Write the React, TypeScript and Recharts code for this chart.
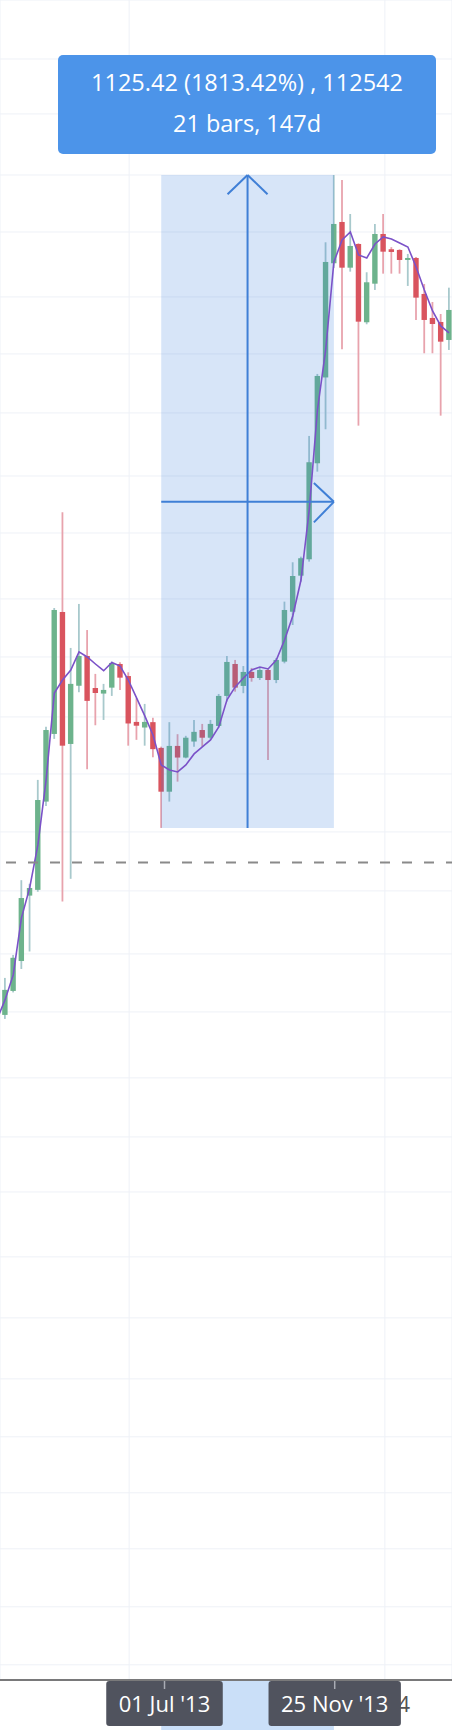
import { useLayoutEffect, useRef, useState } from "react";
import { Bar, CartesianGrid, ComposedChart, Line, ReferenceArea, ReferenceLine, XAxis, YAxis } from "recharts";

// weekly bars, first one only feeds the moving average line at the left edge
const weeks = [
  "2013-02-11", "2013-02-18", "2013-02-25", "2013-03-04", "2013-03-11", "2013-03-18", "2013-03-25", "2013-04-01",
  "2013-04-08", "2013-04-15", "2013-04-22", "2013-04-29", "2013-05-06", "2013-05-13", "2013-05-20", "2013-05-27",
  "2013-06-03", "2013-06-10", "2013-06-17", "2013-06-24", "2013-07-01", "2013-07-08", "2013-07-15", "2013-07-22",
  "2013-07-29", "2013-08-05", "2013-08-12", "2013-08-19", "2013-08-26", "2013-09-02", "2013-09-09", "2013-09-16",
  "2013-09-23", "2013-09-30", "2013-10-07", "2013-10-14", "2013-10-21", "2013-10-28", "2013-11-04", "2013-11-11",
  "2013-11-18", "2013-11-25", "2013-12-02", "2013-12-09", "2013-12-16", "2013-12-23", "2013-12-30", "2014-01-06",
  "2014-01-13", "2014-01-20", "2014-01-27", "2014-02-03", "2014-02-10", "2014-02-17", "2014-02-24", "2014-03-03"
];

const opens = [
  null, 26.65, 29.7, 34.0, 45.7, 46.9, 69.9, 94.9, 164.7, 90.7, 118.0, 135.0, 116.8, 113.9, 117.0, 130.2,
  123.3, 100.2, 97.7, 100.1, 89.1, 73.1, 89.9, 85.3, 91.7, 96.6, 93.3, 98.4, 112.7, 130.2, 117.9, 125.6,
  122.2, 126.7, 121.1, 131.6, 164.9, 194.1, 209.0, 322.6, 475.5, 796.8, 960.2, 781.0, 869.3, 610.2, 726.5, 909.5,
  848.8, 846.1, 808.7, 816.0, 693.5, 622.2, 611.0, 563.3
];
const highs = [
  null, 31.5, 34.95, 49.0, 48.2, 77.1, 98.0, 167.7, 258.5, 140.0, 170.8, 151.8, 124.5, 119.0, 131.6, 131.2,
  125.4, 111.5, 108.7, 102.1, 89.6, 100.1, 94.8, 94.1, 101.1, 99.3, 101.1, 113.7, 135.0, 132.6, 129.0, 127.9,
  127.9, 127.9, 133.8, 172.6, 206.2, 211.5, 365.0, 483.1, 876.0, 1187.48, 1161.0, 995.6, 872.0, 765.0, 951.6, 995.6,
  856.9, 848.8, 831.0, 820.0, 725.6, 668.8, 633.5, 713.5
];
const lows = [
  null, 26.17, 29.5, 32.8, 35.5, 46.5, 68.5, 92.8, 44.5, 49.3, 114.6, 80.9, 98.7, 101.1, 112.7, 115.8,
  90.0, 92.4, 90.0, 85.4, 62.06, 69.9, 76.5, 85.0, 89.6, 89.6, 92.7, 97.7, 109.9, 114.9, 114.1, 120.2,
  121.1, 84.4, 119.4, 130.6, 155.3, 188.9, 206.8, 310.6, 376.2, 780.0, 540.1, 767.1, 382.4, 604.7, 706.2, 760.2,
  760.2, 760.2, 719.1, 616.6, 530.4, 530.4, 400.1, 538.4
];
const closes = [
  null, 29.84, 34.5, 45.2, 47.3, 70.4, 96.6, 166.2, 90.0, 119.0, 135.0, 110.2, 114.2, 115.8, 130.8, 122.4,
  99.5, 98.5, 100.2, 88.6, 73.1, 89.9, 85.3, 93.3, 95.8, 93.3, 99.3, 112.7, 131.4, 117.0, 125.6, 122.2,
  126.7, 121.1, 132.6, 166.2, 193.8, 210.0, 324.1, 478.7, 801.4, 951.6, 781.0, 861.5, 611.9, 731.1, 909.5, 839.6,
  838.5, 808.7, 816.0, 682.1, 616.6, 605.5, 559.0, 645.1
];
const movingAvg = [
  26.05, 28.52, 31.93, 41.32, 47.32, 57.46, 77.09, 114.2, 121.1, 126.7, 137.5, 134.4, 130.2, 126.3, 131.1, 129.0,
  121.1, 111.7, 103.0, 94.48, 82.5, 80.66, 79.93, 82.5, 86.71, 89.49, 92.37, 97.96, 110.7, 117.4, 122.2, 126.7,
  128.4, 127.3, 132.6, 145.1, 161.8, 190.3, 261.2, 410.5, 538.4, 801.4, 885.2, 917.8, 827.2, 816.0, 869.3, 897.3,
  889.2, 873.3, 857.6, 783.5, 706.2, 642.2, 600.1, 581.4
];

// log price grid
const gridPrices = [
  2006, 1565, 1187.5, 917.8, 684.2, 528.8, 405.0, 304.6, 235.4, 174.7, 134.4, 102.5, 79.2, 60.94, 46.68, 35.11,
  27.01, 20.05, 15.35, 11.97, 8.926, 6.775, 5.142, 3.957, 3.072, 2.385, 1.835, 1.412
];
const gridWeeks = [15.1, 46.2]; // Jun '13, 2014

const measureFrom = 19;
const measureTo = 40;
const measureLow = 62.06;
const measureHigh = 1187.48;
const measureMid = 271;
const lastPrice = 53.05;
const measureText = "1125.42 (1813.42%) , 112542";
const measureBars = "21 bars, 147d";

const axisLabels: Record<number, string> = { 19: "01 Jul '13", 40: "25 Nov '13", 46: "2014" };
const axisTicks = [46.2, 19.4, 40.1];

const WIDTH = 452;
const HEIGHT = 1730;
const AXIS_H = 50;
const X_MIN = -0.608;
const X_MAX = 54.365;
const Y_MIN = 1.3182;
const Y_MAX = 2619.1;
const PX_PER_BAR = WIDTH / (X_MAX - X_MIN);

const UP = "#6db38c";
const DOWN = "#d9545e";
const UP_WICK = "#a8c9cc";
const DOWN_WICK = "#e8a3ad";
const MEASURE = "#3f7fd6";
const FONT = "'Open Sans', sans-serif";

const data = weeks.map((week, i) => ({
  week,
  k: i - 1,
  open: opens[i],
  high: highs[i],
  low: lows[i],
  close: closes[i],
  ma: movingAvg[i],
  range: lows[i] == null ? null : [lows[i], highs[i]]
}));

function Candle(props: any) {
  const { x, y, width, height, payload } = props;
  if (!payload || payload.open == null || !isFinite(y) || !isFinite(height)) return null;
  const top = Math.min(y, y + height);
  const bottom = Math.max(y, y + height);
  const lh = Math.log(payload.high);
  const ll = Math.log(payload.low);
  const toPx = (v: number) => top + ((bottom - top) * (lh - Math.log(v))) / (lh - ll || 1);
  const up = payload.close >= payload.open;
  const cx = x + width / 2;
  const bodyTop = toPx(Math.max(payload.open, payload.close));
  const bodyBottom = toPx(Math.min(payload.open, payload.close));
  return (
    <g>
      <line x1={cx} x2={cx} y1={top} y2={bottom} stroke={up ? UP_WICK : DOWN_WICK} strokeWidth={1.8} />
      <rect x={cx - 2.7} y={bodyTop} width={5.4} height={Math.max(bodyBottom - bodyTop, 1.5)} fill={up ? UP : DOWN} />
    </g>
  );
}

function Badge({ x, y, text }: { x: number; y: number; text: string }) {
  const ref = useRef<SVGTextElement>(null);
  const [w, setW] = useState(95);
  useLayoutEffect(() => {
    if (ref.current) {
      const bw = ref.current.getBBox().width;
      if (Math.abs(bw - w) > 0.5) setW(bw);
    }
  });
  return (
    <g>
      <rect x={x - w / 2 - 12.5} y={y + 1} width={w + 25} height={45} rx={3} fill="#50535e" />
      <line x1={x} x2={x} y1={y + 1} y2={y + 9} stroke="#a9acb4" strokeWidth={1.5} />
      <text ref={ref} x={x} y={y + 32} textAnchor="middle" fill="#ffffff" fontSize={22} fontFamily={FONT}>
        {text}
      </text>
    </g>
  );
}

function AxisTick(props: any) {
  const { x, y, payload } = props;
  const key = Math.round(payload.value);
  const text = axisLabels[key];
  if (key === 46) {
    return (
      <text x={x} y={y + 32} textAnchor="middle" fill="#555555" fontSize={22} fontFamily={FONT}>
        {text}
      </text>
    );
  }
  if (key === measureFrom) {
    const bandX = x + (measureFrom - payload.value) * PX_PER_BAR;
    return (
      <g>
        <rect x={bandX} y={y + 1} width={(measureTo - measureFrom) * PX_PER_BAR} height={AXIS_H} fill="#cadff8" />
        <Badge x={x} y={y} text={text} />
      </g>
    );
  }
  return <Badge x={x} y={y} text={text} />;
}

export default function App() {
  return (
    <div style={{ position: "absolute", left: 0, top: 0, width: WIDTH, height: HEIGHT, background: "#ffffff" }}>
      <ComposedChart width={WIDTH} height={HEIGHT} data={data} margin={{ top: 0, right: 0, left: 0, bottom: 0 }}>
        <CartesianGrid xAxisId="grid" stroke="#eef1f7" strokeWidth={1} />
        <XAxis xAxisId="grid" dataKey="k" type="number" domain={[X_MIN, X_MAX]} allowDataOverflow ticks={gridWeeks} hide />
        <XAxis
          dataKey="k"
          type="number"
          domain={[X_MIN, X_MAX]}
          allowDataOverflow
          ticks={axisTicks}
          interval={0}
          height={AXIS_H}
          tickSize={0}
          tickMargin={0}
          tickLine={false}
          axisLine={{ stroke: "#4f4f4f", strokeWidth: 1.5 }}
          tick={(p: any) => <AxisTick {...p} />}
        />
        <YAxis hide type="number" scale="log" domain={[Y_MIN, Y_MAX]} allowDataOverflow ticks={gridPrices} />
        <Bar dataKey="range" barSize={6} isAnimationActive={false} shape={(p: any) => <Candle {...p} />} />
        <ReferenceArea
          x1={measureFrom}
          x2={measureTo}
          y1={measureLow}
          y2={measureHigh}
          fill="rgb(55,125,220)"
          fillOpacity={0.2}
          stroke="none"
          ifOverflow="visible"
          zIndex={350}
        />
        <Line
          dataKey="ma"
          type="linear"
          dot={false}
          activeDot={false}
          stroke="#7b52c8"
          strokeWidth={1.6}
          isAnimationActive={false}
        />
        <ReferenceLine
          segment={[{ x: 29.5, y: measureLow }, { x: 29.5, y: measureHigh }]}
          stroke={MEASURE}
          strokeWidth={2}
          ifOverflow="visible"
        />
        <ReferenceLine
          segment={[{ x: 27.07, y: 1088 }, { x: 29.5, y: measureHigh }]}
          stroke={MEASURE}
          strokeWidth={2}
          ifOverflow="visible"
        />
        <ReferenceLine
          segment={[{ x: 29.5, y: measureHigh }, { x: 31.93, y: 1088 }]}
          stroke={MEASURE}
          strokeWidth={2}
          ifOverflow="visible"
        />
        <ReferenceLine
          segment={[{ x: measureFrom, y: measureMid }, { x: measureTo, y: measureMid }]}
          stroke={MEASURE}
          strokeWidth={2}
          ifOverflow="visible"
        />
        <ReferenceLine
          segment={[{ x: 37.57, y: 295 }, { x: measureTo, y: measureMid }]}
          stroke={MEASURE}
          strokeWidth={2}
          ifOverflow="visible"
        />
        <ReferenceLine
          segment={[{ x: measureTo, y: measureMid }, { x: 37.57, y: 247 }]}
          stroke={MEASURE}
          strokeWidth={2}
          ifOverflow="visible"
        />
        <ReferenceLine y={lastPrice} stroke="#8a8a8a" strokeWidth={2} strokeDasharray="10 12" strokeDashoffset={16} />
      </ComposedChart>
      <div
        style={{
          position: "absolute",
          left: 58,
          top: 55,
          width: 378,
          height: 99,
          boxSizing: "border-box",
          paddingTop: 7,
          background: "#4c94e9",
          borderRadius: 5,
          color: "#ffffff",
          fontFamily: FONT,
          fontSize: 23.5,
          lineHeight: "40.5px",
          textAlign: "center"
        }}
      >
        <div>{measureText}</div>
        <div>{measureBars}</div>
      </div>
    </div>
  );
}
